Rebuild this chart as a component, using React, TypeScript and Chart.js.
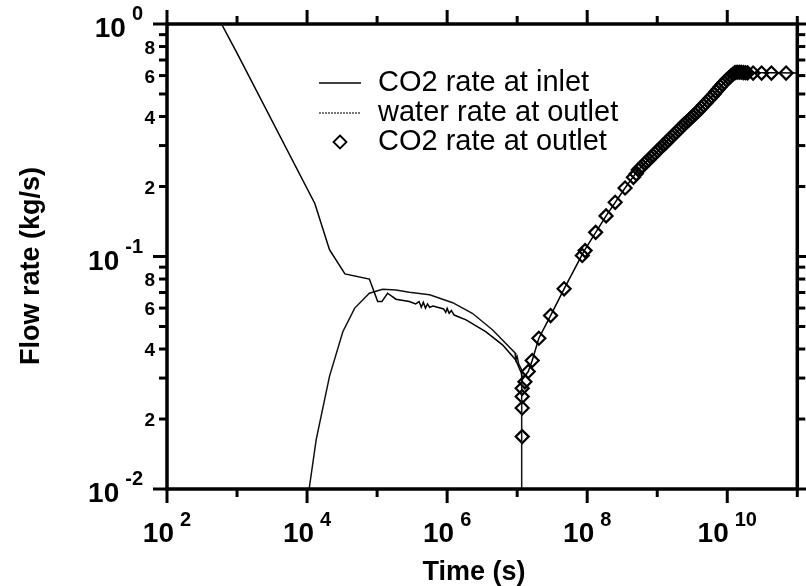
import React, { useEffect, useRef } from "react";
import { Chart, registerables } from "chart.js";

Chart.register(...registerables);

// ---- Data ----
const inletTime = [
  5.0e2, 6.0e2, 1.0e3, 1.29e4, 2.09e4, 3.47e4, 7.76e4, 1.02e5, 1.17e5, 1.41e5, 1.86e5, 2.88e5,
  3.55e5, 3.98e5, 4.27e5, 4.57e5, 4.9e5, 5.25e5, 5.62e5, 6.31e5, 8.91e5, 9.55e5, 1.0e6, 1.07e6,
  1.15e6, 1.26e6, 1.86e6, 3.55e6, 6.17e6, 9.55e6, 1.15e7, 1.18e7, 1.44e7, 1.64e7, 2.04e7, 3.0e7,
  4.68e7, 8.91e7, 1.86e8, 3.47e8, 5.37e8, 1.04e9, 2.0e9, 3.86e9, 6.31e9, 9.66e9, 1.29e10, 1.7e10,
  1.0e11,
];
const inletRate = [
  1.11, 1.0, 0.75, 0.169, 0.107, 0.0842, 0.08, 0.064, 0.064, 0.0695, 0.0655, 0.064,
  0.0625, 0.064, 0.0605, 0.0635, 0.06, 0.0625, 0.0605, 0.0612, 0.0595, 0.0575, 0.0598, 0.057,
  0.0585, 0.056, 0.0534, 0.0475, 0.0417, 0.0359, 0.0315, 0.0295, 0.032, 0.0357, 0.0445, 0.0557,
  0.0726, 0.105, 0.1495, 0.197, 0.236, 0.287, 0.35, 0.4226, 0.495, 0.574, 0.62, 0.618,
  0.616,
];

const waterTime = [
  1.07e4, 1.35e4, 2.09e4, 3.24e4, 4.79e4, 7.76e4, 1.2e5, 1.86e5, 2.88e5, 5.62e5, 1.2e6, 2.29e6,
  4.47e6, 7.59e6, 9.33e6, 9.55e6, 1.0e7, 1.05e7, 1.16e7, 1.16e7,
];
const waterRate = [
  0.01, 0.0163, 0.0305, 0.0475, 0.06, 0.0695, 0.0723, 0.0718, 0.0702, 0.0684, 0.0633, 0.057,
  0.0483, 0.041, 0.0385, 0.036, 0.0371, 0.0345, 0.0325, 0.005,
];

const outletTime = [
  1.18e7, 1.18e7, 1.18e7, 1.18e7, 1.29e7, 1.44e7, 1.64e7, 2.04e7, 3.0e7, 4.68e7, 8.51e7, 9.33e7,
  1.32e8, 1.86e8, 2.51e8, 3.47e8, 4.57e8, 5.01e8, 5.37e8,
  5.75e8, 6.17e8, 6.61e8, 7.08e8, 7.59e8, 8.13e8, 8.71e8, 9.33e8, 1.0e9, 1.07e9, 1.15e9, 1.23e9,
  1.32e9, 1.41e9, 1.51e9, 1.62e9, 1.74e9, 1.86e9, 2.0e9, 2.14e9, 2.29e9, 2.45e9, 2.63e9, 2.82e9,
  3.02e9, 3.24e9, 3.47e9, 3.72e9, 3.98e9, 4.27e9, 4.57e9, 4.9e9, 5.25e9, 5.62e9, 6.03e9, 6.46e9,
  6.92e9, 7.41e9, 7.94e9, 8.51e9, 9.12e9, 9.77e9, 1.05e10, 1.12e10, 1.2e10, 1.29e10, 1.38e10,
  1.48e10, 1.58e10, 1.7e10, 1.82e10, 1.95e10, 2.34e10, 3.09e10, 4.27e10, 6.92e10,
];
const outletRate = [
  0.0168, 0.0223, 0.025, 0.0271, 0.0289, 0.032, 0.0357, 0.0445, 0.0557, 0.0726, 0.101, 0.106,
  0.127, 0.1495, 0.171, 0.197, 0.219, 0.227, 0.236,
  0.24, 0.245, 0.251, 0.256, 0.261, 0.267, 0.272, 0.278, 0.284, 0.29, 0.296, 0.302,
  0.308, 0.315, 0.321, 0.328, 0.335, 0.342, 0.349, 0.356, 0.364, 0.372, 0.379, 0.386,
  0.394, 0.402, 0.41, 0.418, 0.427, 0.436, 0.447, 0.456, 0.467, 0.477, 0.488, 0.499,
  0.512, 0.524, 0.537, 0.55, 0.562, 0.575, 0.586, 0.597, 0.608, 0.618, 0.62,
  0.62, 0.62, 0.618, 0.617, 0.616, 0.615, 0.615, 0.615, 0.615,
];

// ---- Axes / labels ----
const xMinExp = 2;
const xMaxExp = 11;
const xLabelExps = [2, 4, 6, 8, 10];
const yMinExp = -2;
const yMaxExp = 0;
const yLabelExps = [0, -1, -2];
const yMinorLabels = [2, 4, 6, 8];
const xTitle = "Time (s)";
const yTitle = "Flow rate (kg/s)";
const legendLabels = ["CO2 rate at inlet", "water rate at outlet", "CO2 rate at outlet"];

const FONT = '"Liberation Sans", Arial, Helvetica, sans-serif';

const pts = (xs: number[], ys: number[]) => xs.map((x, i) => ({ x, y: ys[i] }));

const framePlugin = {
  id: "frameAndLabels",
  afterDatasetsDraw(chart: any) {
    const { ctx, chartArea: ca, scales } = chart;
    const xs = scales.x;
    const ys = scales.y;
    ctx.save();
    ctx.strokeStyle = "#000";
    ctx.fillStyle = "#000";
    ctx.lineCap = "butt";

    const seg = (x1: number, y1: number, x2: number, y2: number) => {
      ctx.beginPath();
      ctx.moveTo(x1, y1);
      ctx.lineTo(x2, y2);
      ctx.stroke();
    };

    // ticks X
    ctx.lineWidth = 3;
    for (let e = xMinExp; e <= xMaxExp; e++) {
      const px = xs.getPixelForValue(Math.pow(10, e));
      const len = xLabelExps.includes(e) ? 14 : 8;
      seg(px, ca.bottom, px, ca.bottom + len);
      seg(px, ca.top, px, ca.top - len);
    }
    // ticks Y
    for (let e = yMinExp; e <= yMaxExp; e++) {
      const base = Math.pow(10, e);
      const py = ys.getPixelForValue(base);
      seg(ca.left, py, ca.left - 14, py);
      seg(ca.right, py, ca.right + 14, py);
      if (e < yMaxExp) {
        for (let m = 2; m <= 9; m++) {
          const pm = ys.getPixelForValue(base * m);
          seg(ca.left, pm, ca.left - 8, pm);
          seg(ca.right, pm, ca.right + 8, pm);
        }
      }
    }

    // frame
    ctx.lineWidth = 3.5;
    ctx.strokeRect(ca.left, ca.top, ca.right - ca.left, ca.bottom - ca.top);

    // X labels
    const bigFont = `bold 28px ${FONT}`;
    const supFont = `bold 20px ${FONT}`;
    ctx.textBaseline = "alphabetic";
    for (const e of xLabelExps) {
      const px = xs.getPixelForValue(Math.pow(10, e));
      ctx.font = bigFont;
      const w1 = ctx.measureText("10").width;
      ctx.font = supFont;
      const w2 = ctx.measureText(String(e)).width;
      const gap = 6;
      const total = w1 + gap + w2;
      const x0 = px - total / 2;
      ctx.textAlign = "left";
      ctx.font = bigFont;
      ctx.fillText("10", x0, ca.bottom + 53);
      ctx.font = supFont;
      ctx.fillText(String(e), x0 + w1 + gap, ca.bottom + 37);
    }

    // Y labels
    for (const e of yLabelExps) {
      const py = ys.getPixelForValue(Math.pow(10, e));
      ctx.font = supFont;
      const sup = String(e);
      const w2 = ctx.measureText(sup).width;
      const right = ca.left - 24;
      ctx.textAlign = "left";
      ctx.fillText(sup, right - w2, py - 4);
      ctx.font = bigFont;
      ctx.textAlign = "right";
      ctx.fillText("10", right - w2 - 6, py + 13);
    }
    ctx.font = `bold 19px ${FONT}`;
    ctx.textAlign = "right";
    for (let e = yMinExp; e < yMaxExp; e++) {
      for (const m of yMinorLabels) {
        const py = ys.getPixelForValue(Math.pow(10, e) * m);
        ctx.fillText(String(m), ca.left - 12, py + 7);
      }
    }

    // axis titles
    ctx.font = `bold 27px ${FONT}`;
    ctx.textAlign = "center";
    ctx.textBaseline = "alphabetic";
    ctx.fillText(xTitle, 474, 580);
    ctx.save();
    ctx.translate(39, 266);
    ctx.rotate(-Math.PI / 2);
    ctx.fillText(yTitle, 0, 0);
    ctx.restore();

    // legend
    const lx1 = 319;
    const lx2 = 361;
    const rows = [83, 113, 142];
    ctx.lineWidth = 1.5;
    ctx.strokeStyle = "#000";
    seg(lx1, rows[0], lx2, rows[0]);
    ctx.strokeStyle = "#777";
    ctx.lineWidth = 2;
    ctx.setLineDash([2, 1]);
    seg(lx1, rows[1], lx2, rows[1]);
    ctx.setLineDash([]);
    ctx.strokeStyle = "#000";
    ctx.lineWidth = 1.8;
    const cx = (lx1 + lx2) / 2;
    const r = 6.5;
    ctx.beginPath();
    ctx.moveTo(cx, rows[2] - r);
    ctx.lineTo(cx + r, rows[2]);
    ctx.lineTo(cx, rows[2] + r);
    ctx.lineTo(cx - r, rows[2]);
    ctx.closePath();
    ctx.stroke();
    ctx.font = `29px ${FONT}`;
    ctx.textAlign = "left";
    ctx.textBaseline = "middle";
    legendLabels.forEach((t, i) => ctx.fillText(t, 378, rows[i]));

    ctx.restore();
  },
};

export default function App() {
  const ref = useRef<HTMLCanvasElement>(null);
  useEffect(() => {
    const chart = new Chart(ref.current as HTMLCanvasElement, {
      type: "scatter",
      data: {
        datasets: [
          {
            label: legendLabels[0],
            data: pts(inletTime, inletRate),
            showLine: true,
            borderColor: "#000",
            borderWidth: 1.5,
            pointRadius: 0,
            tension: 0,
          },
          {
            label: legendLabels[1],
            data: pts(waterTime, waterRate),
            showLine: true,
            borderColor: "#111",
            borderWidth: 1.5,
            pointRadius: 0,
            tension: 0,
          },
          {
            label: legendLabels[2],
            data: pts(outletTime, outletRate),
            showLine: false,
            pointStyle: "rectRot",
            pointRadius: 6.5,
            borderColor: "#000",
            borderWidth: 2.2,
            backgroundColor: "rgba(0,0,0,0)",
          },
        ],
      },
      options: {
        responsive: false,
        animation: false,
        devicePixelRatio: 1,
        layout: { padding: { left: 167, top: 24, right: 7, bottom: 97 } },
        scales: {
          x: { type: "logarithmic", min: 1e2, max: 1e11, display: false },
          y: { type: "logarithmic", min: 1e-2, max: 1, display: false },
        },
        plugins: { legend: { display: false }, tooltip: { enabled: false } },
      },
      plugins: [framePlugin],
    } as any);
    return () => chart.destroy();
  }, []);
  return (
    <div style={{ position: "fixed", left: 0, top: 0, width: 806, height: 586, background: "#fff" }}>
      <canvas ref={ref} width={806} height={586} style={{ display: "block" }} />
    </div>
  );
}
